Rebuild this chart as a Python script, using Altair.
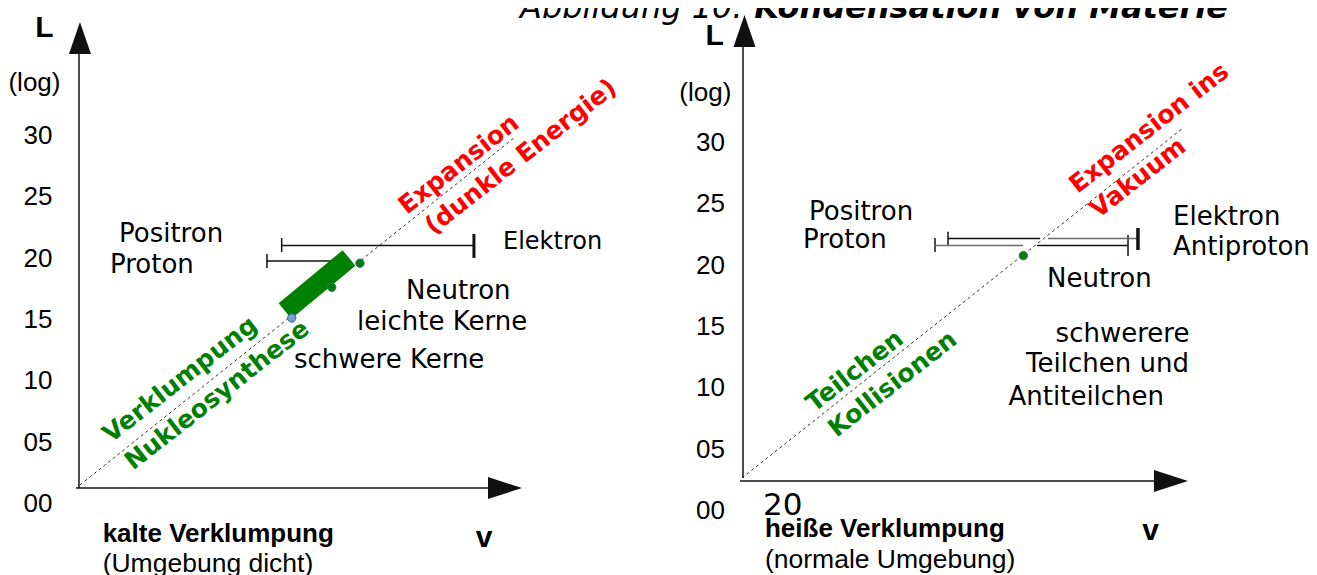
import altair as alt
import pandas as pd

# ---------------- panel scales (v = horizontal units, L = log units) ----------------
W, H = 1301, 567
LEFT_V_DOMAIN = [-5.705, 100.33]
LEFT_L_DOMAIN = [-5.87, 40.34]
RIGHT_V_DOMAIN = [-59.82, 46.21]
RIGHT_L_DOMAIN = [-5.30, 40.91]

# ---------------- tick labels ----------------
TICK_VALUES = [0, 5, 10, 15, 20, 25, 30]
TICK_LABELS = ["00", "05", "10", "15", "20", "25", "30"]
LEFT_TICK_V = -2.09
RIGHT_TICK_V = -1.39

# ---------------- left panel: horizontal labels ----------------
LEFT_TEXT = ["Positron", "Proton", "Neutron", "leichte Kerne", "schwere Kerne"]
LEFT_TEXT_V = [3.34, 2.61, 26.73, 22.74, 17.60]
LEFT_TEXT_L = [21.30, 18.77, 16.60, 14.10, 10.98]
LEFT_SMALL = ["Elektron"]
LEFT_SMALL_V = [34.64]
LEFT_SMALL_L = [20.68]

# ---------------- right panel: horizontal labels ----------------
RIGHT_TEXT = ["Positron", "Proton", "Elektron", "Antiproton", "Neutron",
              "schwerere", "Teilchen und", "Antiteilchen"]
RIGHT_TEXT_V = [5.46, 4.97, 35.13, 35.13, 24.86, 25.56, 23.15, 21.72]
RIGHT_TEXT_L = [23.64, 21.35, 23.23, 20.78, 18.20, 13.69, 11.25, 8.56]
RIGHT_BIG = ["20"]
RIGHT_BIG_V = [1.71]
RIGHT_BIG_L = [-0.41]

# ---------------- captions ----------------
LEFT_CAP_BOLD = ["kalte Verklumpung"]
LEFT_CAP_PLAIN = ["(Umgebung dicht)"]
LEFT_CAP_V = [2.01]
LEFT_CAP_L = [-3.15, -5.66]
RIGHT_CAP_BOLD = ["heiße Verklumpung"]
RIGHT_CAP_PLAIN = ["(normale Umgebung)"]
RIGHT_CAP_V = [1.87]
RIGHT_CAP_L = [-2.18, -4.73]

# ---------------- axis letters ----------------
AXIS_LETTERS = ["L", "v"]
LEFT_LETTER_V = [-2.73, 33.09]
LEFT_LETTER_L = [38.00, -3.56]
RIGHT_LETTER_V = [-2.22, 33.29]
RIGHT_LETTER_L = [37.90, -2.45]
LOG_TEXT = ["(log)"]
LEFT_LOG_V, LEFT_LOG_L = [-3.55], [33.56]
RIGHT_LOG_V, RIGHT_LOG_L = [-2.99], [33.29]

# ---------------- rotated labels ----------------
LEFT_RED = ["Expansion", "(dunkle Energie)"]
LEFT_RED_V = [31.03, 36.09]
LEFT_RED_L = [27.61, 28.22]
LEFT_GREEN = ["Verklumpung", "Nukleosynthese"]
LEFT_GREEN_V = [8.31, 11.33]
LEFT_GREEN_L = [10.07, 8.80]
RIGHT_RED = ["Expansion ins", "Vakuum"]
RIGHT_RED_V = [33.17, 32.27]
RIGHT_RED_L = [31.13, 27.06]
RIGHT_GREEN = ["Teilchen", "Kollisionen"]
RIGHT_GREEN_V = [9.19, 12.27]
RIGHT_GREEN_L = [11.33, 10.27]

# ---------------- title ----------------
TITLE_PLAIN = ["Abbildung 10: "]
TITLE_BOLD = ["Kondensation von Materie"]
TITLE_PLAIN_V, TITLE_BOLD_V, TITLE_L = [-18.09], [39.61], [40.10]

# ---------------- line segments (v1, L1, v2, L2) ----------------
LEFT_AXES = [(0.08, 1.22, 0.08, 36.59), (-0.16, 1.22, 33.58, 1.22)]
RIGHT_AXES = [(0.08, 2.61, 0.08, 37.73), (-0.16, 2.36, 33.66, 2.36)]
LEFT_BARS = [(16.60, 20.99, 32.27, 20.99), (15.40, 19.72, 22.17, 19.72),
             (16.60, 21.60, 16.60, 20.46), (15.40, 20.29, 15.40, 19.15)]
LEFT_THICK_CAP = [(32.27, 21.92, 32.27, 19.97)]
RIGHT_BARS = [(16.79, 22.13, 24.29, 22.13), (24.04, 21.56, 31.46, 21.56),
              (16.79, 22.68, 16.79, 21.52), (15.73, 22.17, 15.73, 21.03),
              (31.46, 22.41, 31.46, 20.70)]
RIGHT_GRAY_BARS = [(24.94, 22.13, 32.19, 22.13), (15.73, 21.56, 22.90, 21.56)]
RIGHT_THICK_CAP = [(32.27, 22.98, 32.27, 21.19)]
LEFT_DIAGONAL = [(0.16, 1.47, 35.66, 29.85)]
RIGHT_DIAGONAL = [(0.0, 2.61, 35.94, 31.13)]
GREEN_BAND = [(16.87, 15.65, 22.09, 19.97)]

# arrow heads (centre positions)
LEFT_UP_ARROW = [(0.16, 37.90)]
LEFT_RIGHT_ARROW = [(34.80, 1.22)]
RIGHT_UP_ARROW = [(0.20, 39.04)]
RIGHT_RIGHT_ARROW = [(34.96, 2.36)]

# dots
LEFT_DOTS_V = [17.42, 20.68, 22.98]
LEFT_DOTS_L = [15.08, 17.58, 19.54]
LEFT_DOTS_FILL = ["#729fcf", "#008000", "#008000"]
RIGHT_DOTS_V = [22.93]
RIGHT_DOTS_L = [20.73]
RIGHT_DOTS_FILL = ["#008000"]

GREEN = "#008000"
RED = "#ff0000"
DEJAVU = "DejaVu Sans"
LIB = "Liberation Sans"


def sx(side):
    return alt.Scale(domain=LEFT_V_DOMAIN if side == "L" else RIGHT_V_DOMAIN, zero=False, nice=False)


def sy(side):
    return alt.Scale(domain=LEFT_L_DOMAIN if side == "L" else RIGHT_L_DOMAIN, zero=False, nice=False)


def text_layer(texts, vs, ls, side, font, size, weight="normal", style="normal",
               color="black", align="left", baseline="alphabetic", angle=0, dy=0):
    df = pd.DataFrame({"t": texts, "v": vs, "L": ls})
    return alt.Chart(df).mark_text(
        font=font, fontSize=size, fontWeight=weight, fontStyle=style, color=color,
        align=align, baseline=baseline, angle=angle, dy=dy
    ).encode(
        x=alt.X("v:Q", scale=sx(side), axis=None),
        y=alt.Y("L:Q", scale=sy(side), axis=None),
        text="t:N",
    )


def rule_layer(segs, side, color="#111111", width=1.5, dash=None, cap="butt"):
    df = pd.DataFrame(segs, columns=["v1", "L1", "v2", "L2"])
    kw = dict(color=color, strokeWidth=width, strokeCap=cap)
    if dash:
        kw["strokeDash"] = dash
    return alt.Chart(df).mark_rule(**kw).encode(
        x=alt.X("v1:Q", scale=sx(side), axis=None),
        y=alt.Y("L1:Q", scale=sy(side), axis=None),
        x2="v2:Q",
        y2="L2:Q",
    )


def arrow_layer(pts, side, shape, size):
    df = pd.DataFrame(pts, columns=["v", "L"])
    return alt.Chart(df).mark_point(
        shape=shape, size=size, filled=True, color="#111111", opacity=1, strokeWidth=0
    ).encode(
        x=alt.X("v:Q", scale=sx(side), axis=None),
        y=alt.Y("L:Q", scale=sy(side), axis=None),
    )


def dot_layer(vs, ls, fills, side):
    df = pd.DataFrame({"v": vs, "L": ls, "c": fills})
    return alt.Chart(df).mark_circle(size=70, opacity=1, stroke="#3465a4", strokeWidth=1).encode(
        x=alt.X("v:Q", scale=sx(side), axis=None),
        y=alt.Y("L:Q", scale=sy(side), axis=None),
        fill=alt.Fill("c:N", scale=None),
    )


UP = "M0,-1L0.6875,1L-0.6875,1Z"
RIGHT = "M1,0L-1,-0.647L-1,0.647Z"

left = alt.layer(
    rule_layer(LEFT_DIAGONAL, "L", color="#333333", width=1, dash=[3, 3]),
    rule_layer(LEFT_AXES, "L"),
    arrow_layer(LEFT_UP_ARROW, "L", UP, 1024),
    arrow_layer(LEFT_RIGHT_ARROW, "L", RIGHT, 1156),
    rule_layer(LEFT_BARS, "L"),
    rule_layer(LEFT_THICK_CAP, "L", width=3),
    rule_layer(GREEN_BAND, "L", color=GREEN, width=20),
    dot_layer(LEFT_DOTS_V, LEFT_DOTS_L, LEFT_DOTS_FILL, "L"),
    text_layer(TICK_LABELS, [LEFT_TICK_V] * 7, TICK_VALUES, "L", LIB, 26, align="right", baseline="middle", dy=1),
    text_layer(LOG_TEXT, LEFT_LOG_V, LEFT_LOG_L, "L", LIB, 26, align="center"),
    text_layer(AXIS_LETTERS, LEFT_LETTER_V, LEFT_LETTER_L, "L", LIB, 30, weight="bold", align="center"),
    text_layer(LEFT_TEXT, LEFT_TEXT_V, LEFT_TEXT_L, "L", DEJAVU, 26),
    text_layer(LEFT_SMALL, LEFT_SMALL_V, LEFT_SMALL_L, "L", DEJAVU, 24),
    text_layer(LEFT_CAP_BOLD, LEFT_CAP_V, LEFT_CAP_L[:1], "L", LIB, 26, weight="bold"),
    text_layer(LEFT_CAP_PLAIN, LEFT_CAP_V, LEFT_CAP_L[1:], "L", LIB, 26.5),
    text_layer(LEFT_RED, LEFT_RED_V, LEFT_RED_L, "L", DEJAVU, 25, weight="bold", color=RED,
               align="center", baseline="middle", angle=322),
    text_layer(LEFT_GREEN, LEFT_GREEN_V, LEFT_GREEN_L, "L", DEJAVU, 25, weight="bold", color=GREEN,
               align="center", baseline="middle", angle=322),
)

right = alt.layer(
    rule_layer(RIGHT_DIAGONAL, "R", color="#333333", width=1, dash=[3, 3]),
    rule_layer(RIGHT_AXES, "R"),
    arrow_layer(RIGHT_UP_ARROW, "R", UP, 1024),
    arrow_layer(RIGHT_RIGHT_ARROW, "R", RIGHT, 1156),
    rule_layer(RIGHT_BARS, "R"),
    rule_layer(RIGHT_GRAY_BARS, "R", color="#6b6b6b"),
    rule_layer(RIGHT_THICK_CAP, "R", width=3.5),
    dot_layer(RIGHT_DOTS_V, RIGHT_DOTS_L, RIGHT_DOTS_FILL, "R"),
    text_layer(TICK_LABELS, [RIGHT_TICK_V] * 7, TICK_VALUES, "R", LIB, 26, align="right", baseline="middle", dy=1),
    text_layer(LOG_TEXT, RIGHT_LOG_V, RIGHT_LOG_L, "R", LIB, 26, align="center"),
    text_layer(AXIS_LETTERS, RIGHT_LETTER_V, RIGHT_LETTER_L, "R", LIB, 30, weight="bold", align="center"),
    text_layer(RIGHT_TEXT, RIGHT_TEXT_V, RIGHT_TEXT_L, "R", DEJAVU, 26),
    text_layer(RIGHT_BIG, RIGHT_BIG_V, RIGHT_BIG_L, "R", DEJAVU, 31),
    text_layer(RIGHT_CAP_BOLD, RIGHT_CAP_V, RIGHT_CAP_L[:1], "R", LIB, 26, weight="bold"),
    text_layer(RIGHT_CAP_PLAIN, RIGHT_CAP_V, RIGHT_CAP_L[1:], "R", LIB, 26.5),
    text_layer(RIGHT_RED, RIGHT_RED_V, RIGHT_RED_L, "R", DEJAVU, 25, weight="bold", color=RED,
               align="center", baseline="middle", angle=322),
    text_layer(RIGHT_GREEN, RIGHT_GREEN_V, RIGHT_GREEN_L, "R", DEJAVU, 25, weight="bold", color=GREEN,
               align="center", baseline="middle", angle=322),
    text_layer(TITLE_PLAIN, TITLE_PLAIN_V, TITLE_L, "R", DEJAVU, 32, style="italic"),
    text_layer(TITLE_BOLD, TITLE_BOLD_V, TITLE_L, "R", DEJAVU, 32, weight="bold", style="italic", align="right"),
)

chart = alt.layer(left, right).resolve_scale(
    x="independent", y="independent"
).properties(
    width=W, height=H, autosize=alt.AutoSizeParams(type="none"), padding=0,
    background="white",
).configure_view(stroke=None)

chart.save("out.html", embed_options={"renderer": "svg", "actions": False})
